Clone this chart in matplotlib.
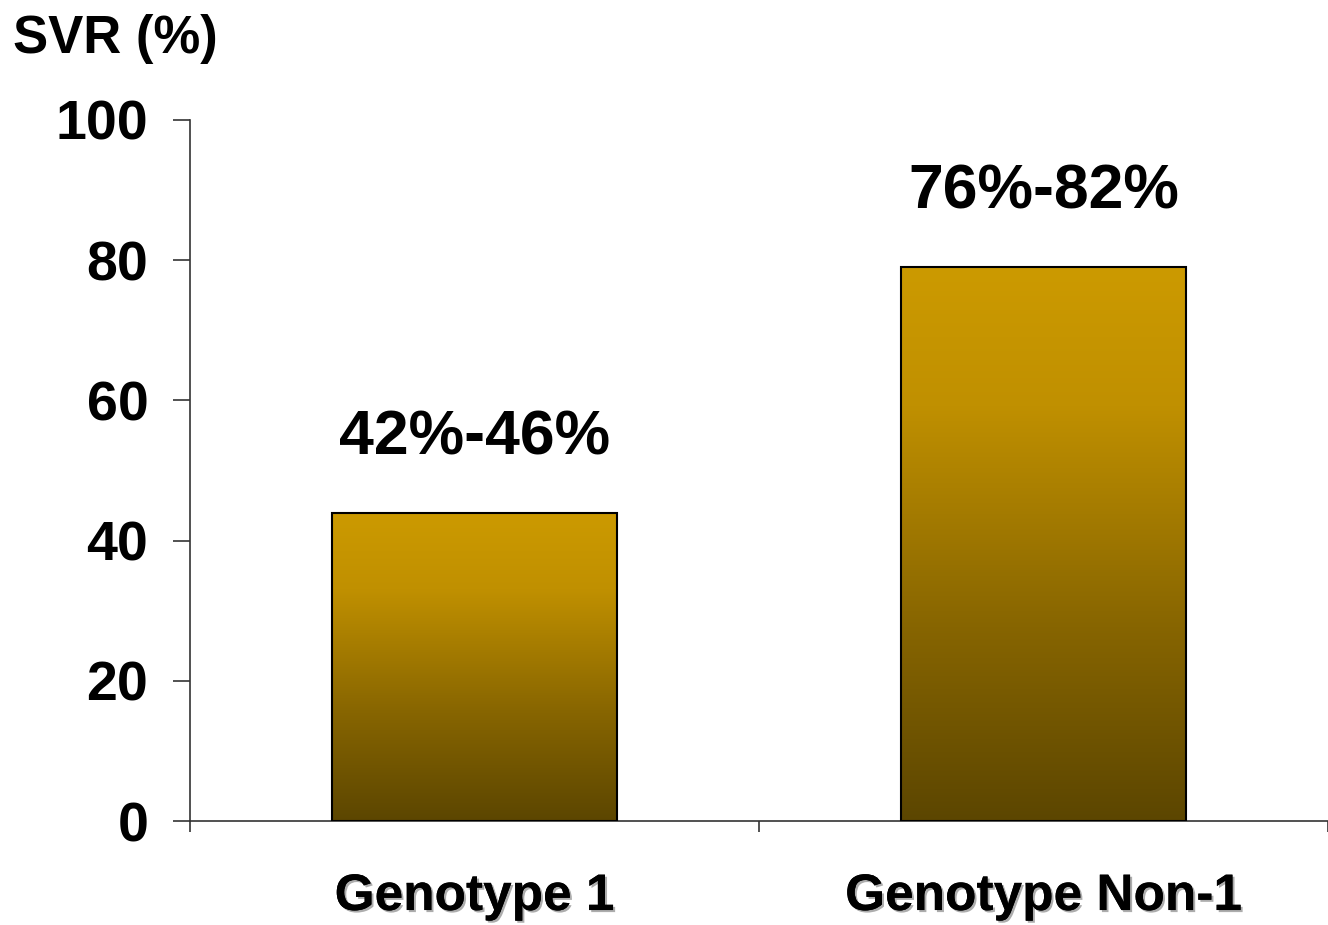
import matplotlib
matplotlib.use("Agg")
import matplotlib.pyplot as plt
import matplotlib.patheffects as pe
import numpy as np
from matplotlib.colors import LinearSegmentedColormap
from matplotlib.transforms import blended_transform_factory

plt.rcParams['font.family'] = ['Liberation Sans', 'DejaVu Sans']
plt.rcParams['font.weight'] = 'bold'

genotypes = ["Genotype 1", "Genotype Non-1"]
svr_low = [42, 76]
svr_high = [46, 82]
y_ticks = [0, 20, 40, 60, 80, 100]

svr_mid = [(lo + hi) / 2 for lo, hi in zip(svr_low, svr_high)]
x = np.arange(len(genotypes))
bar_w = 0.5

# gold fading to dark brown towards the base of each bar
gold = LinearSegmentedColormap.from_list(
    "gold", [(0.0, "#5C4600"), (0.35, "#876500"), (0.75, "#C09000"), (1.0, "#CC9A00")])

fig = plt.figure(figsize=(13.28, 9.25), dpi=100)
ax = fig.add_axes([190 / 1328, 104 / 925, 1138 / 1328, 701 / 925])

grad = np.linspace(0, 1, 256).reshape(-1, 1)
for xi, h in zip(x, svr_mid):
    ax.imshow(grad, cmap=gold, origin="lower", aspect="auto",
              extent=[xi - bar_w / 2, xi + bar_w / 2, 0, h], zorder=2)
ax.bar(x, svr_mid, width=bar_w, fill=False, edgecolor="black", linewidth=1.5, zorder=3)

for xi, h, lo, hi in zip(x, svr_mid, svr_low, svr_high):
    ax.annotate(f"{lo}%-{hi}%", (xi, h), xytext=(0, 42), textcoords="offset points",
                ha="center", va="baseline", fontsize=45, fontweight="bold")

# one category = 577 px, the axis runs off the right edge
ax.set_xlim(-0.5, -0.5 + 1138 / 577)
ax.set_ylim(0, 100)
ax.set_yticks(y_ticks)
ax.set_yticklabels([str(t) for t in y_ticks], fontsize=40, fontweight="bold")
ax.tick_params(axis="y", direction="out", length=12, width=1.2, color="#333333", pad=18)
ax.set_xticks([-0.5, 0.5, 1.5])
ax.set_xticklabels([])
ax.tick_params(axis="x", direction="out", length=8, width=1.2, color="#333333")

for side in ("top", "right"):
    ax.spines[side].set_visible(False)
for side in ("left", "bottom"):
    ax.spines[side].set_color("#333333")
    ax.spines[side].set_linewidth(1.2)

trans = blended_transform_factory(ax.transData, ax.transAxes)
shadow = [pe.withSimplePatchShadow(offset=(1.5, -1.5), shadow_rgbFace="#999999", alpha=0.8),
          pe.Normal()]
for xi, name in zip(x, genotypes):
    ax.text(xi, -0.127, name, transform=trans, ha="center", va="baseline",
            fontsize=37, fontweight="bold", path_effects=shadow)

fig.text(13 / 1328, 1 - 53 / 925, "SVR (%)", ha="left", va="baseline",
         fontsize=38, fontweight="bold")

fig.savefig("out.png", dpi=100)
